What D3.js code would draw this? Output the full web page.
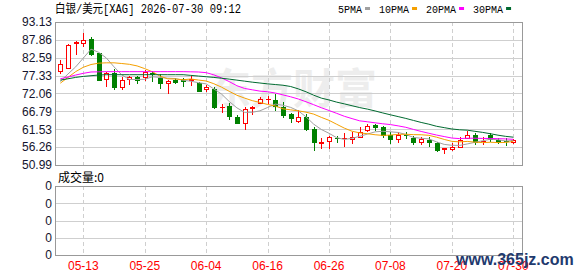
<!DOCTYPE html>
<meta charset="utf-8">
<style>
body { margin: 0; background: #fff; }
svg text { font-family: "Liberation Sans", Arial, sans-serif; }
.mono { font-family: "Liberation Mono", "Noto Sans CJK SC", monospace; }
.cjk { font-family: "Noto Sans CJK SC", sans-serif; }
</style>
<body>
<script src="https://d3js.org/d3.v7.min.js"></script>
<script>
// trading days shown
var dates = ["05-08","05-11","05-12","05-13","05-14","05-15","05-18","05-19","05-20","05-21",
  "05-22","05-25","05-26","05-27","05-28","05-29","06-01","06-02","06-03","06-04",
  "06-05","06-08","06-09","06-10","06-11","06-12","06-15","06-16","06-17","06-18",
  "06-19","06-22","06-23","06-24","06-25","06-26","06-29","06-30","07-01","07-02",
  "07-03","07-06","07-07","07-08","07-09","07-10","07-13","07-14","07-15","07-16",
  "07-17","07-20","07-21","07-22","07-23","07-24","07-27","07-28","07-29","07-30"];

var open = [78.78,79.66,86.95,87.03,88.12,83.9,76.24,78.0,74.06,76.24,
  76.92,77.0,78.19,76.54,75.07,76.04,76.24,76.1,75.24,73.3,
  73.3,68.1,68.37,65.22,63.46,67.9,69.35,70.3,70.14,68.17,
  65.93,63.96,65.22,61.6,57.6,58.06,59.0,58.8,58.65,59.33,
  61.3,62.77,62.19,59.83,58.65,59.9,59.04,57.86,58.36,57.38,
  55.85,55.7,56.38,59.04,59.83,58.1,59.83,58.36,58.2,57.86];
var high = [81.93,86.65,87.53,89.8,88.8,84.0,78.48,79.19,77.0,77.22,
  77.22,78.98,78.69,77.72,76.04,76.54,76.72,77.22,75.4,74.56,
  73.97,68.88,69.17,65.72,67.99,68.47,71.12,71.4,71.82,69.64,
  66.4,67.2,65.93,62.28,58.86,59.4,59.53,60.33,60.8,62.28,
  62.98,63.07,62.48,60.8,60.8,60.8,59.53,59.33,59.16,57.68,
  55.98,57.56,59.16,61.1,60.33,59.16,60.33,58.86,58.86,58.65];
var low = [78.19,79.6,83.61,86.06,83.5,76.0,74.36,73.38,73.38,74.77,
  75.07,76.04,75.74,73.77,72.12,75.07,74.27,74.57,72.8,72.8,
  67.8,66.52,64.54,63.27,61.6,65.93,69.17,69.17,67.2,65.22,
  63.57,63.75,61.3,55.41,56.09,55.9,57.68,56.68,57.38,59.16,
  61.01,61.3,59.33,57.38,57.68,58.86,57.09,57.09,56.58,55.12,
  54.61,55.41,56.2,58.86,57.09,57.09,58.15,57.38,56.9,57.56];
var close = [80.75,86.35,87.1,87.83,83.61,76.04,78.0,74.06,76.04,76.83,
  76.04,78.3,77.72,75.07,75.74,75.54,75.74,76.3,72.88,74.06,
  68.0,68.2,65.43,63.46,67.49,68.0,70.35,70.4,68.46,65.72,
  64.93,65.22,61.6,57.68,57.8,59.33,58.8,59.0,59.33,60.8,
  62.57,62.1,59.83,58.56,59.83,59.7,57.68,58.56,57.68,55.41,
  55.95,56.38,58.36,59.83,57.86,58.2,58.65,57.68,58.0,58.36];

var ma5 = [75.6,77.8,79.9,82.5,85.13,84.19,82.52,79.91,77.55,76.19,
  76.19,76.25,76.99,76.79,76.57,76.47,75.96,75.68,75.24,74.9,
  73.4,71.89,69.71,67.83,66.52,66.52,66.95,67.94,68.94,68.59,
  67.97,66.95,65.19,63.03,61.45,60.33,59.04,58.52,58.85,59.45,
  60.1,60.76,60.93,60.77,60.58,60.0,59.12,58.87,58.69,57.81,
  57.06,56.8,56.76,57.19,57.68,58.13,58.58,58.44,58.08,58.18];
var ma10 = [75.1,76.8,78.5,79.8,80.6,81.0,81.1,81.1,80.9,80.66,
  80.19,79.39,78.45,77.17,76.38,76.33,76.11,76.33,76.02,75.74,
  74.94,73.93,72.7,71.54,70.71,69.96,69.42,68.83,68.39,67.55,
  67.24,66.95,66.56,65.99,65.02,64.15,62.99,61.85,60.94,60.45,
  60.21,59.9,59.72,59.81,60.02,60.05,59.94,59.9,59.73,59.19,
  58.53,57.96,57.81,57.94,57.74,57.59,57.69,57.6,57.63,57.93];
var ma20 = [76.4,76.9,77.5,78.0,78.4,78.45,78.5,78.5,78.5,78.5,
  78.5,78.5,78.5,78.5,78.5,78.5,78.5,78.45,78.4,78.2,
  77.56,76.66,75.57,74.35,73.55,73.15,72.76,72.58,72.2,71.65,
  71.09,70.44,69.63,68.76,67.86,67.05,66.21,65.34,64.66,64.0,
  63.73,63.42,63.14,62.9,62.52,62.1,61.47,60.88,60.34,59.82,
  59.37,58.93,58.77,58.88,58.88,58.82,58.81,58.75,58.68,58.56];
var ma30 = [76.0,76.4,76.8,77.1,77.3,77.5,77.6,77.6,77.6,77.6,
  77.6,77.6,77.6,77.6,77.6,77.6,77.6,77.4,77.2,77.0,
  76.8,76.55,76.3,76.0,75.7,75.4,75.15,74.9,74.7,74.5,
  74.12,73.42,72.57,71.56,70.7,70.15,69.51,69.0,68.45,67.91,
  67.46,66.92,66.33,65.78,65.25,64.72,64.12,63.53,63.02,62.4,
  62.0,61.6,61.37,61.25,60.92,60.6,60.21,59.78,59.43,59.19];

var priceTicks = [93.13, 87.86, 82.59, 77.33, 72.06, 66.79, 61.53, 56.26, 50.99];
var volTicks = ["0", "0", "0", "0", "0"];
var xTicks = ["05-13","05-25","06-04","06-16","06-26","07-08","07-20","07-30"];
var maNames = ["5PMA", "10PMA", "20PMA", "30PMA"];
var maColors = ["#a0a0a0", "#f5a000", "#ff00ff", "#006a30"];
var maSeries = [ma5, ma10, ma20, ma30];

var width = 578, height = 276;
var left = 55, right = 522;
var priceTop = 22, priceBottom = 165, volTop = 186, volBottom = 255;
var up = "#ff0000", down = "#008000", gridColor = "#cfcfcf", frame = "#999";

var svg = d3.select("body").append("svg")
    .attr("width", width)
    .attr("height", height);

var x = d3.scalePoint().domain(dates).range([60.3, 513.3]);
var y = d3.scaleLinear().domain([50.99, 93.13]).range([priceBottom, priceTop]);
var yv = d3.scaleLinear().domain([0, volTicks.length - 1]).range([volBottom, volTop]);

function px(v) { return Math.round(v) + 0.5; }

// header
svg.append("text").attr("class", "mono")
    .attr("x", 55).attr("y", 13)
    .attr("font-size", 12)
    .attr("textLength", 186).attr("lengthAdjust", "spacingAndGlyphs")
    .text("白银/美元[XAG] 2026-07-30 09:12");

// legend
var lx = 338;
maNames.forEach(function(name, i) {
    var t = svg.append("text").attr("class", "mono")
        .attr("x", lx).attr("y", 13)
        .attr("font-size", 10)
        .text(name);
    var w = t.node().getComputedTextLength();
    svg.append("rect")
        .attr("x", lx + w + 3).attr("y", 7)
        .attr("width", 5).attr("height", 3)
        .attr("fill", maColors[i]);
    lx = lx + w + 3 + 5 + 9;
});

// watermark
svg.append("text").attr("class", "cjk")
    .attr("x", 293).attr("y", 104)
    .attr("text-anchor", "middle")
    .attr("font-size", 42).attr("font-weight", "bold")
    .attr("fill", "#ededed")
    .text("东方财富");

// price grid
svg.append("g").selectAll("line")
    .data(priceTicks).enter().append("line")
    .attr("x1", left).attr("x2", right)
    .attr("y1", function(d) { return px(y(d)); })
    .attr("y2", function(d) { return px(y(d)); })
    .attr("stroke", gridColor);

svg.append("g").selectAll("line")
    .data(volTicks).enter().append("line")
    .attr("x1", left).attr("x2", right)
    .attr("y1", function(d, i) { return px(yv(i)); })
    .attr("y2", function(d, i) { return px(yv(i)); })
    .attr("stroke", gridColor);

[[priceTop, priceBottom], [volTop, volBottom]].forEach(function(p) {
    svg.append("g").selectAll("line")
        .data(xTicks).enter().append("line")
        .attr("x1", function(d) { return px(x(d)); })
        .attr("x2", function(d) { return px(x(d)); })
        .attr("y1", p[0]).attr("y2", p[1])
        .attr("stroke", gridColor)
        .attr("stroke-dasharray", "4,3");
});

// frames
svg.append("rect").attr("x", left + 0.5).attr("y", priceTop + 0.5)
    .attr("width", right - left).attr("height", priceBottom - priceTop)
    .attr("fill", "none").attr("stroke", frame);
svg.append("rect").attr("x", left + 0.5).attr("y", volTop + 0.5)
    .attr("width", right - left).attr("height", volBottom - volTop)
    .attr("fill", "none").attr("stroke", frame);

// y labels
svg.append("g").selectAll("text")
    .data(priceTicks).enter().append("text")
    .attr("x", 52).attr("y", function(d) { return y(d); })
    .attr("dy", "0.36em")
    .attr("text-anchor", "end")
    .attr("font-size", 12)
    .attr("fill", "#14142e")
    .text(function(d) { return d.toFixed(2); });

svg.append("g").selectAll("text")
    .data(volTicks).enter().append("text")
    .attr("x", 52).attr("y", function(d, i) { return yv(i); })
    .attr("dy", "0.36em")
    .attr("text-anchor", "end")
    .attr("font-size", 12)
    .attr("fill", "#14142e")
    .text(function(d) { return d; });

svg.append("text").attr("class", "cjk")
    .attr("x", 58).attr("y", 182)
    .attr("font-size", 12)
    .text("成交量:0");

// x labels
svg.append("g").selectAll("text")
    .data(xTicks).enter().append("text")
    .attr("x", function(d) { return x(d); })
    .attr("y", 270)
    .attr("text-anchor", "middle")
    .attr("font-size", 12)
    .attr("fill", "#ff0000")
    .text(function(d) { return d; });

// candles
var candles = svg.append("g").attr("shape-rendering", "crispEdges");
dates.forEach(function(d, i) {
    var cx = Math.round(x(d));
    var isUp = close[i] >= open[i];
    var col = isUp ? up : down;
    candles.append("line")
        .attr("x1", cx + 0.5).attr("x2", cx + 0.5)
        .attr("y1", Math.round(y(high[i]))).attr("y2", Math.round(y(low[i])) + 1)
        .attr("stroke", col);
    var yt = Math.round(y(Math.max(open[i], close[i])));
    var yb = Math.round(y(Math.min(open[i], close[i])));
    if (yb - yt < 1) {
        candles.append("line")
            .attr("x1", cx - 2).attr("x2", cx + 3)
            .attr("y1", yt + 0.5).attr("y2", yt + 0.5)
            .attr("stroke", col);
    } else if (isUp) {
        candles.append("rect")
            .attr("x", cx - 1.5).attr("y", yt + 0.5)
            .attr("width", 4).attr("height", yb - yt)
            .attr("fill", "#fff").attr("stroke", col);
    } else {
        candles.append("rect")
            .attr("x", cx - 2).attr("y", yt)
            .attr("width", 5).attr("height", yb - yt + 1)
            .attr("fill", col);
    }
});

// moving averages
var line = d3.line()
    .x(function(d, i) { return x(dates[i]); })
    .y(function(d) { return y(d); });
maSeries.forEach(function(s, i) {
    svg.append("path")
        .attr("d", line(s))
        .attr("fill", "none")
        .attr("stroke", maColors[i])
        .attr("stroke-width", 1);
});

// site mark
svg.append("text")
    .attr("x", 456).attr("y", 265)
    .attr("font-family", "Liberation Serif, serif")
    .attr("font-size", 16).attr("font-weight", "bold")
    .attr("fill", "#1f3a6e")
    .text("www.365jz.com");
</script>
</body>
